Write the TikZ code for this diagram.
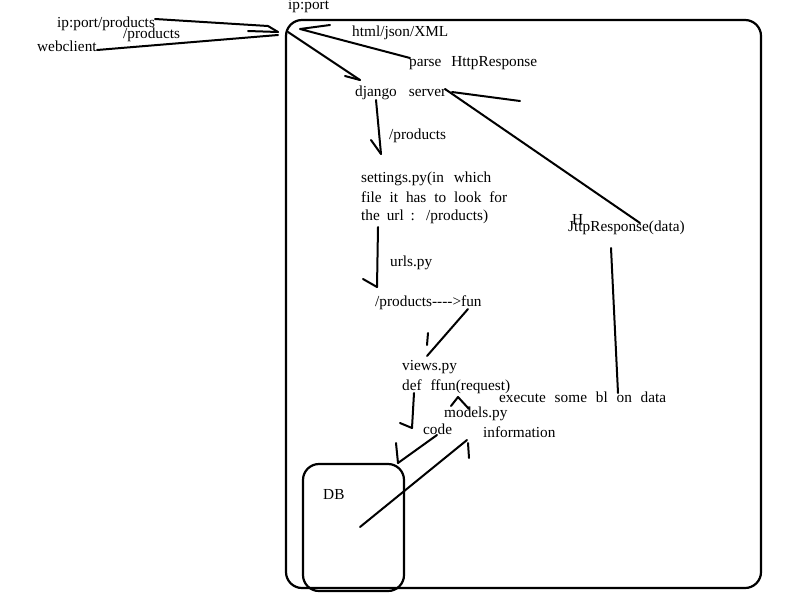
\documentclass[tikz,border=0pt]{standalone}
\usepackage{fontspec}
\setmainfont{Liberation Serif}
\begin{document}
\begin{tikzpicture}[x=1pt,y=-1pt,
  lbl/.style={anchor=west,inner sep=0pt,yshift=-1.5pt,font=\fontsize{15.3}{17}\selectfont},
  stroke/.style={line width=2pt,line cap=round,line join=round},
  frame/.style={line width=2.2pt,rounded corners=16pt}]
\useasboundingbox (0,0) rectangle (800,600);
% frames
\draw[frame] (286,20) rectangle (761,588);
\draw[frame] (303,464) rectangle (404,591);
% texts
\node[lbl] (ipport) at (288,5) {ip:port};
\node[lbl] (ipprod) at (57,22) {ip:port/products};
\node[lbl] (prodA) at (123,33) {/products};
\node[lbl] (web) at (37,45) {webclient};
\node[lbl] (html) at (352,31) {html/json/XML};
\node[lbl] (parse) at (409,62) {\makebox[128pt][s]{parse HttpResponse}};
\node[lbl] (django) at (355,91) {\makebox[91pt][s]{django server}};
\node[lbl] (prodB) at (389,134) {/products};
\node[lbl] (set1) at (361,177) {\makebox[130pt][s]{settings.py(in which}};
\node[lbl] (set2) at (361,196) {\makebox[146pt][s]{file it has to look for}};
\node[lbl] (set3) at (361,215) {\makebox[127pt][s]{the url : /products)}};
\node[lbl] (urls) at (390,261) {urls.py};
\node[lbl] (fun) at (375,301) {/products-\kern0pt-\kern0pt-\kern0pt->fun};
\node[lbl] (views) at (402,366) {views.py};
\node[lbl] (def) at (402,385) {\makebox[108pt][s]{def ffun(request)}};
\node[lbl] (exec) at (499,396) {\makebox[167pt][s]{execute some bl on data}};
\node[lbl] (models) at (444,412) {models.py};
\node[lbl] (code) at (423,428) {code};
\node[lbl] (info) at (483,431) {information};
\node[lbl] (db) at (323,493) {DB};
\node[lbl] (resp) at (568,226) {\makebox[118pt][s]{JttpResponse(data)}};
\node[lbl] (respH) at (572,218) {H};
% coordinates of the hand-drawn strokes
\coordinate (a1) at (155,19);
\coordinate (a2) at (268,26);
\coordinate (a3) at (278,32);
\coordinate (a4) at (248,31);
\coordinate (b1) at (97,50);
\coordinate (b2) at (278,35);
\coordinate (c1) at (410,58);
\coordinate (c2) at (300,29);
\coordinate (c3) at (330,25);
\coordinate (d1) at (288,32);
\coordinate (d2) at (360,80);
\coordinate (d3) at (345,76);
\coordinate (e1) at (452,92);
\coordinate (e2) at (520,101);
\coordinate (f1) at (445,89);
\coordinate (f2) at (640,223);
\coordinate (g1) at (376,100);
\coordinate (g2) at (381,154);
\coordinate (g3) at (371,140);
\coordinate (h1) at (378,227);
\coordinate (h2) at (377,287);
\coordinate (h3) at (363,279);
\coordinate (i1) at (468,309);
\coordinate (i2) at (427,356);
\coordinate (i3) at (428,333);
\coordinate (i4) at (427,345);
\coordinate (j1) at (414,393);
\coordinate (j2) at (412,428);
\coordinate (j3) at (400,423);
\coordinate (k1) at (451,406);
\coordinate (k2) at (458,397);
\coordinate (k3) at (469,409);
\coordinate (l1) at (437,435);
\coordinate (l2) at (398,463);
\coordinate (l3) at (396,443);
\coordinate (m1) at (467,440);
\coordinate (m2) at (360,527);
\coordinate (m3) at (468,443);
\coordinate (m4) at (469,458);
\coordinate (n1) at (611,248);
\coordinate (n2) at (618,393);
% strokes
\draw[stroke] (a1) -- (a2) -- (a3);
\draw[stroke] (a4) -- (a3);
\draw[stroke] (b1) -- (b2);
\draw[stroke] (c1) -- (c2) -- (c3);
\draw[stroke] (d1) -- (d2);
\draw[stroke] (d3) -- (d2);
\draw[stroke] (e1) -- (e2);
\draw[stroke] (f1) -- (f2);
\draw[stroke] (g1) -- (g2);
\draw[stroke] (g3) -- (g2);
\draw[stroke] (h1) -- (h2);
\draw[stroke] (h3) -- (h2);
\draw[stroke] (i1) -- (i2);
\draw[stroke] (i3) -- (i4);
\draw[stroke] (j1) -- (j2);
\draw[stroke] (j3) -- (j2);
\draw[stroke] (k1) -- (k2) -- (k3);
\draw[stroke] (l1) -- (l2);
\draw[stroke] (l3) -- (l2);
\draw[stroke] (m1) -- (m2);
\draw[stroke] (m3) -- (m4);
\draw[stroke] (n1) -- (n2);
\end{tikzpicture}
\end{document}
